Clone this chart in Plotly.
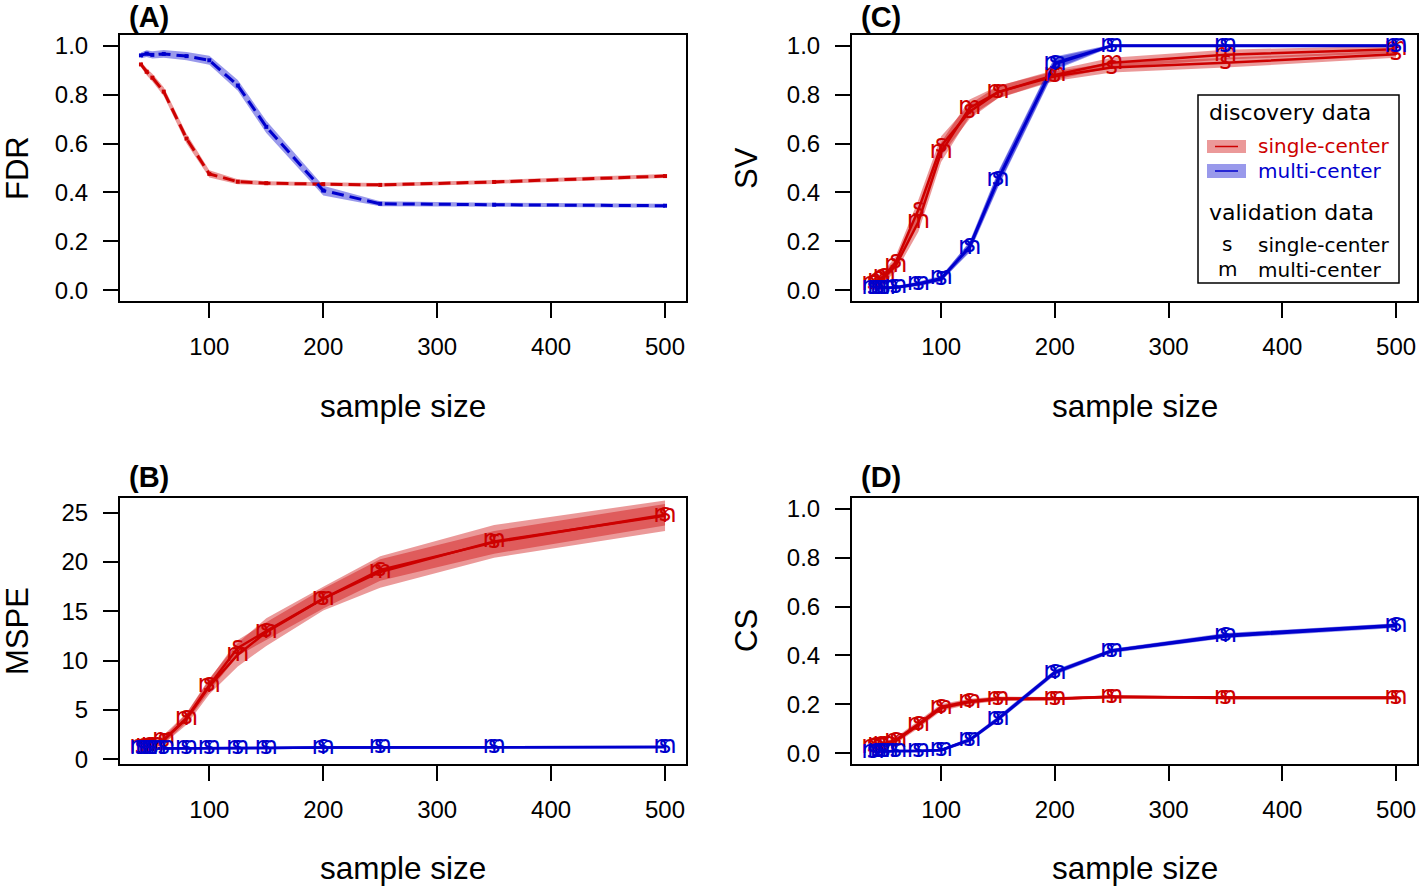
import plotly.graph_objects as go

# ---------------- data ----------------
sample_size = [40, 45, 50, 60, 80, 100, 125, 150, 200, 250, 350, 500]

# (A) FDR
fdr_single = [0.923, 0.893, 0.869, 0.812, 0.620, 0.476, 0.444, 0.438, 0.434, 0.431, 0.443, 0.467]
fdr_single_hw = [0.012, 0.014, 0.016, 0.018, 0.020, 0.015, 0.010, 0.008, 0.008, 0.008, 0.008, 0.008]
fdr_multi = [0.960, 0.967, 0.962, 0.966, 0.957, 0.940, 0.837, 0.668, 0.408, 0.354, 0.350, 0.346]
fdr_multi_hw = [0.012, 0.014, 0.015, 0.016, 0.017, 0.018, 0.022, 0.025, 0.020, 0.010, 0.008, 0.008]

# (B) MSPE
mspe_single_s = [1.2, 1.3, 1.4, 1.9, 4.2, 7.5, 11.3, 13.0, 16.3, 19.2, 22.0, 24.8]
mspe_single_s_hw = [0.2, 0.25, 0.3, 0.35, 0.45, 0.6, 0.8, 0.9, 1.0, 1.1, 1.15, 1.1]
mspe_single_m = [1.2, 1.3, 1.45, 2.0, 4.1, 7.4, 10.6, 12.9, 16.3, 19.0, 22.1, 24.7]
mspe_single_m_hw = [0.3, 0.35, 0.4, 0.45, 0.6, 0.8, 1.2, 1.4, 1.2, 1.6, 1.65, 1.55]
mspe_multi_s = [1.1, 1.1, 1.1, 1.1, 1.1, 1.12, 1.15, 1.15, 1.2, 1.22, 1.25, 1.25]
mspe_multi_s_hw = [0.1, 0.1, 0.1, 0.1, 0.1, 0.1, 0.1, 0.1, 0.1, 0.1, 0.1, 0.1]
mspe_multi_m = [1.1, 1.1, 1.1, 1.1, 1.1, 1.1, 1.13, 1.15, 1.19, 1.21, 1.24, 1.24]
mspe_multi_m_hw = [0.12, 0.12, 0.12, 0.12, 0.12, 0.12, 0.12, 0.12, 0.12, 0.12, 0.12, 0.12]

# (C) SV
sv_single_s = [0.030, 0.045, 0.060, 0.115, 0.330, 0.590, 0.730, 0.810, 0.875, 0.910, 0.930, 0.965]
sv_single_s_hw = [0.015, 0.018, 0.020, 0.025, 0.040, 0.040, 0.030, 0.025, 0.020, 0.020, 0.020, 0.015]
sv_single_m = [0.025, 0.040, 0.055, 0.100, 0.280, 0.565, 0.745, 0.810, 0.880, 0.930, 0.963, 0.985]
sv_single_m_hw = [0.015, 0.018, 0.020, 0.025, 0.040, 0.040, 0.035, 0.025, 0.020, 0.020, 0.020, 0.015]
sv_multi_s = [0.010, 0.010, 0.010, 0.012, 0.025, 0.045, 0.180, 0.455, 0.930, 1.000, 1.000, 1.000]
sv_multi_s_hw = [0.005, 0.005, 0.005, 0.006, 0.008, 0.010, 0.020, 0.030, 0.025, 0.004, 0.004, 0.004]
sv_multi_m = [0.010, 0.010, 0.010, 0.012, 0.028, 0.050, 0.175, 0.450, 0.925, 0.998, 0.998, 0.998]
sv_multi_m_hw = [0.005, 0.005, 0.005, 0.006, 0.008, 0.010, 0.020, 0.030, 0.025, 0.004, 0.004, 0.004]

# (D) CS
cs_single_s = [0.030, 0.035, 0.040, 0.055, 0.120, 0.190, 0.213, 0.224, 0.224, 0.230, 0.228, 0.228]
cs_single_s_hw = [0.008, 0.008, 0.009, 0.010, 0.012, 0.012, 0.010, 0.008, 0.006, 0.006, 0.006, 0.006]
cs_single_m = [0.028, 0.033, 0.040, 0.050, 0.115, 0.185, 0.210, 0.222, 0.222, 0.232, 0.226, 0.226]
cs_single_m_hw = [0.008, 0.008, 0.009, 0.010, 0.012, 0.012, 0.010, 0.008, 0.006, 0.006, 0.006, 0.006]
cs_multi_s = [0.007, 0.008, 0.010, 0.010, 0.010, 0.013, 0.054, 0.142, 0.332, 0.420, 0.484, 0.524]
cs_multi_s_hw = [0.004, 0.004, 0.004, 0.004, 0.004, 0.005, 0.008, 0.010, 0.010, 0.008, 0.008, 0.008]
cs_multi_m = [0.007, 0.008, 0.010, 0.010, 0.010, 0.014, 0.056, 0.140, 0.330, 0.418, 0.478, 0.520]
cs_multi_m_hw = [0.004, 0.004, 0.004, 0.004, 0.004, 0.005, 0.008, 0.010, 0.010, 0.008, 0.008, 0.008]

x_ticks = [100, 200, 300, 400, 500]

# ---------------- style ----------------
W, H = 1419, 886
RED = "#CD0000"
BLUE = "#0000CD"
RED_BAND = "rgba(205,0,0,0.4)"
BLUE_BAND = "rgba(0,0,205,0.4)"
FONT = "Liberation Sans"
LFONT = "DejaVu Sans"


def px(p):
    return p / W


def py(p):
    return 1 - p / H


fig = go.Figure()


def band(xa, ya, y, hw, color):
    upper = [v + h for v, h in zip(y, hw)]
    lower = [v - h for v, h in zip(y, hw)]
    fig.add_trace(go.Scatter(
        x=sample_size + sample_size[::-1], y=upper + lower[::-1],
        fill="toself", fillcolor=color, line=dict(width=0), mode="lines",
        hoverinfo="skip", showlegend=False, xaxis=xa, yaxis=ya))


def line(xa, ya, y, color, dash="solid"):
    fig.add_trace(go.Scatter(
        x=sample_size, y=y, mode="lines", line=dict(color=color, width=2.5, dash=dash),
        showlegend=False, xaxis=xa, yaxis=ya))


def letters(xa, ya, y, color, ch):
    fig.add_trace(go.Scatter(
        x=sample_size, y=y, mode="text", text=[ch] * len(y),
        textposition="middle center",
        textfont=dict(family=LFONT, size=24, color=color),
        showlegend=False, xaxis=xa, yaxis=ya))


# (A) FDR  -> xaxis / yaxis
band("x", "y", fdr_single, fdr_single_hw, RED_BAND)
band("x", "y", fdr_multi, fdr_multi_hw, BLUE_BAND)
for y, c in [(fdr_single, RED), (fdr_multi, BLUE)]:
    fig.add_trace(go.Scatter(
        x=sample_size, y=y, mode="lines+markers",
        line=dict(color=c, width=3, dash="12px,6px"),
        marker=dict(symbol="square", size=4, color=c),
        showlegend=False, xaxis="x", yaxis="y"))

# (C) SV -> xaxis2 / yaxis2 ; (B) MSPE -> xaxis3 / yaxis3 ; (D) CS -> xaxis4 / yaxis4
panel_series = [
    ("x3", "y3", mspe_single_s, mspe_single_s_hw, mspe_single_m, mspe_single_m_hw,
     mspe_multi_s, mspe_multi_s_hw, mspe_multi_m, mspe_multi_m_hw),
    ("x2", "y2", sv_single_s, sv_single_s_hw, sv_single_m, sv_single_m_hw,
     sv_multi_s, sv_multi_s_hw, sv_multi_m, sv_multi_m_hw),
    ("x4", "y4", cs_single_s, cs_single_s_hw, cs_single_m, cs_single_m_hw,
     cs_multi_s, cs_multi_s_hw, cs_multi_m, cs_multi_m_hw),
]
for (xa, ya, ss, ssh, sm, smh, ms, msh, mm, mmh) in panel_series:
    band(xa, ya, ss, ssh, RED_BAND)
    band(xa, ya, sm, smh, RED_BAND)
    band(xa, ya, ms, msh, BLUE_BAND)
    band(xa, ya, mm, mmh, BLUE_BAND)
    line(xa, ya, ss, RED)
    line(xa, ya, sm, RED)
    line(xa, ya, ms, BLUE)
    line(xa, ya, mm, BLUE)
    letters(xa, ya, sm, RED, "m")
    letters(xa, ya, ss, RED, "s")
    letters(xa, ya, mm, BLUE, "m")
    letters(xa, ya, ms, BLUE, "s")

# ---------------- axes ----------------
common = dict(showline=True, linecolor="black", linewidth=2, mirror=True,
              ticks="outside", ticklen=15, tickwidth=2, tickcolor="black",
              showgrid=False, zeroline=False, automargin=False,
              tickfont=dict(family=FONT, size=24, color="black"))

L_dom = (px(120), px(686))
R_dom = (px(852), px(1417))
T_dom = (py(301), py(35))
B_dom = (py(764), py(498))
xr = [21.6, 518.4]
yr01 = [-0.0432, 1.0432]

axes = {
    "": (L_dom, T_dom, yr01, [0, 0.2, 0.4, 0.6, 0.8, 1.0], ".1f"),
    "2": (R_dom, T_dom, yr01, [0, 0.2, 0.4, 0.6, 0.8, 1.0], ".1f"),
    "3": (L_dom, B_dom, [-0.48, 26.5], [0, 5, 10, 15, 20, 25], "d"),
    "4": (R_dom, B_dom, yr01, [0, 0.2, 0.4, 0.6, 0.8, 1.0], ".1f"),
}
lay = {}
for k, (xd, yd, yrange, yt, fmt) in axes.items():
    lay["xaxis" + k] = dict(common, domain=list(xd), range=xr, tickvals=x_ticks,
                            anchor="y" + k, ticklabelstandoff=8)
    lay["yaxis" + k] = dict(common, domain=list(yd), range=yrange, tickvals=yt,
                            tickformat=fmt, anchor="x" + k, ticklabelstandoff=10)

annotations = []


def ann(text, x, y, size, color="black", family=FONT, angle=0, xanchor="center", bold=False):
    annotations.append(dict(
        text=("<b>%s</b>" % text) if bold else text, x=px(x), y=py(y),
        xref="paper", yref="paper", showarrow=False, textangle=angle,
        xanchor=xanchor, yanchor="middle",
        font=dict(family=family, size=size, color=color)))


# axis titles
for cx in (403, 1134.5):
    ann("sample size", cx, 406, 31.5)
    ann("sample size", cx, 868, 31.5)
ann("FDR", 17, 168, 31, angle=-90)
ann("MSPE", 17, 631, 31, angle=-90)
ann("SV", 746, 168, 31, angle=-90)
ann("CS", 746, 631, 31, angle=-90)

# panel labels
ann("(A)", 127, 17, 29, xanchor="left", bold=True)
ann("(B)", 127, 477, 29, xanchor="left", bold=True)
ann("(C)", 859, 17, 29, xanchor="left", bold=True)
ann("(D)", 859, 477, 29, xanchor="left", bold=True)

# legend (panel C)
ann("discovery data", 1207, 113, 22, family=LFONT, xanchor="left")
ann("single-center", 1256, 146, 20, color=RED, family=LFONT, xanchor="left")
ann("multi-center", 1256, 171, 20, color=BLUE, family=LFONT, xanchor="left")
ann("validation data", 1207, 213, 22, family=LFONT, xanchor="left")
ann("s", 1227, 244, 20, family=LFONT)
ann("single-center", 1256, 245, 20, family=LFONT, xanchor="left")
ann("m", 1227, 269, 20, family=LFONT)
ann("multi-center", 1256, 270, 20, family=LFONT, xanchor="left")

shapes = [
    dict(type="rect", xref="paper", yref="paper", x0=px(1198), x1=px(1399), y0=py(283), y1=py(95),
         fillcolor="white", line=dict(color="black", width=1.5), layer="above"),
    dict(type="rect", xref="paper", yref="paper", x0=px(1207), x1=px(1246), y0=py(153), y1=py(140),
         fillcolor=RED_BAND, line=dict(width=0), layer="above"),
    dict(type="line", xref="paper", yref="paper", x0=px(1215), x1=px(1238), y0=py(146.5), y1=py(146.5),
         line=dict(color=RED, width=1.5), layer="above"),
    dict(type="rect", xref="paper", yref="paper", x0=px(1207), x1=px(1246), y0=py(178), y1=py(164),
         fillcolor=BLUE_BAND, line=dict(width=0), layer="above"),
    dict(type="line", xref="paper", yref="paper", x0=px(1215), x1=px(1238), y0=py(171), y1=py(171),
         line=dict(color=BLUE, width=1.5), layer="above"),
]

fig.update_layout(
    template="none",
    width=W, height=H, margin=dict(l=0, r=0, t=0, b=0, pad=0, autoexpand=False),
    paper_bgcolor="white", plot_bgcolor="white", showlegend=False,
    annotations=annotations, shapes=shapes, **lay)

fig.write_html("out.html", config={"displayModeBar": False},
               post_script="document.body.style.margin='0';document.body.style.overflow='hidden';")
